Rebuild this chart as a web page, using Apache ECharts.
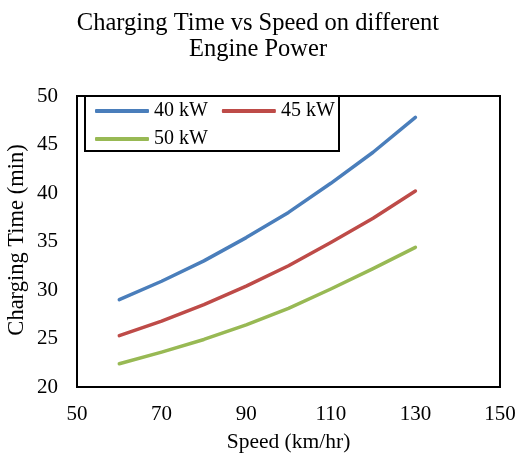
<!DOCTYPE html>
<html>
<head>
<meta charset="utf-8">
<script src="https://cdn.jsdelivr.net/npm/echarts@6/dist/echarts.min.js"></script>
<style>
  html, body { margin: 0; padding: 0; background: #fff; }
  #chart { width: 521px; height: 458px; }
</style>
</head>
<body>
<div id="chart"></div>
<script>
// Speed in km/hr
const speeds = [60, 70, 80, 90, 100, 110, 120, 130];
// Charging time in minutes for each engine power
const time40kW = [29.0, 30.9, 33.0, 35.4, 38.0, 41.0, 44.2, 47.8];
const time45kW = [25.3, 26.8, 28.5, 30.4, 32.5, 34.9, 37.4, 40.2];
const time50kW = [22.4, 23.6, 24.9, 26.4, 28.1, 30.1, 32.2, 34.4];
const seriesNames = ['40 kW', '45 kW', '50 kW'];
const seriesColors = ['#4a7ebb', '#be4b48', '#98b954'];

const FONT = '"Liberation Serif", "Times New Roman", serif';

function pairs(values) {
  return speeds.map((s, i) => [s, values[i]]);
}

const chart = echarts.init(document.getElementById('chart'), null, { renderer: 'canvas' });

const lineSeries = [time40kW, time45kW, time50kW].map((vals, i) => ({
  name: seriesNames[i],
  type: 'line',
  data: pairs(vals),
  showSymbol: false,
  symbol: 'none',
  smooth: false,
  lineStyle: { color: seriesColors[i], width: 3.5, cap: 'round', join: 'round' },
  itemStyle: { color: seriesColors[i] },
  emphasis: { disabled: true }
}));

const legendCommon = {
  orient: 'horizontal',
  itemWidth: 54,
  itemHeight: 4,
  itemGap: 14,
  icon: 'roundRect',
  padding: 0,
  textStyle: { fontFamily: FONT, fontSize: 20, color: '#000' },
  selectedMode: false
};

chart.setOption({
  animation: false,
  backgroundColor: '#fff',
  title: {
    text: 'Charging Time vs Speed on different\nEngine Power',
    left: 253,
    top: 6,
    textAlign: 'center',
    textStyle: { fontFamily: FONT, fontSize: 24.5, fontWeight: 'normal', color: '#000', lineHeight: 26 }
  },
  grid: {
    left: 77, right: 21, top: 96, bottom: 70,
    show: true, borderColor: '#000', borderWidth: 2, backgroundColor: 'transparent'
  },
  legend: [
    Object.assign({}, legendCommon, { data: ['40 kW', '45 kW'], left: 95, top: 101 }),
    Object.assign({}, legendCommon, { data: ['50 kW'], left: 95, top: 129 })
  ],
  xAxis: {
    type: 'value',
    min: 50, max: 150, interval: 20,
    name: 'Speed (km/hr)',
    nameLocation: 'middle',
    nameGap: 44,
    nameTextStyle: { fontFamily: FONT, fontSize: 21.5, color: '#000' },
    axisLine: { show: false },
    axisTick: { show: false },
    splitLine: { show: false },
    axisLabel: { fontFamily: FONT, fontSize: 21, color: '#000', margin: 17 }
  },
  yAxis: {
    type: 'value',
    min: 20, max: 50, interval: 5,
    axisLine: { show: false },
    axisTick: { show: false },
    splitLine: { show: false },
    axisLabel: { fontFamily: FONT, fontSize: 21, color: '#000', margin: 19 }
  },
  graphic: [
    {
      type: 'rect',
      shape: { x: 85, y: 96, width: 254, height: 55 },
      style: { fill: '#fff', stroke: '#000', lineWidth: 2 },
      z: 2
    },
    {
      type: 'text',
      x: 17.5, y: 240,
      rotation: Math.PI / 2,
      style: {
        text: 'Charging Time (min)',
        fontFamily: FONT, fontSize: 22.5, fill: '#000',
        align: 'center', verticalAlign: 'middle'
      }
    }
  ],
  series: lineSeries
});
</script>
</body>
</html>
